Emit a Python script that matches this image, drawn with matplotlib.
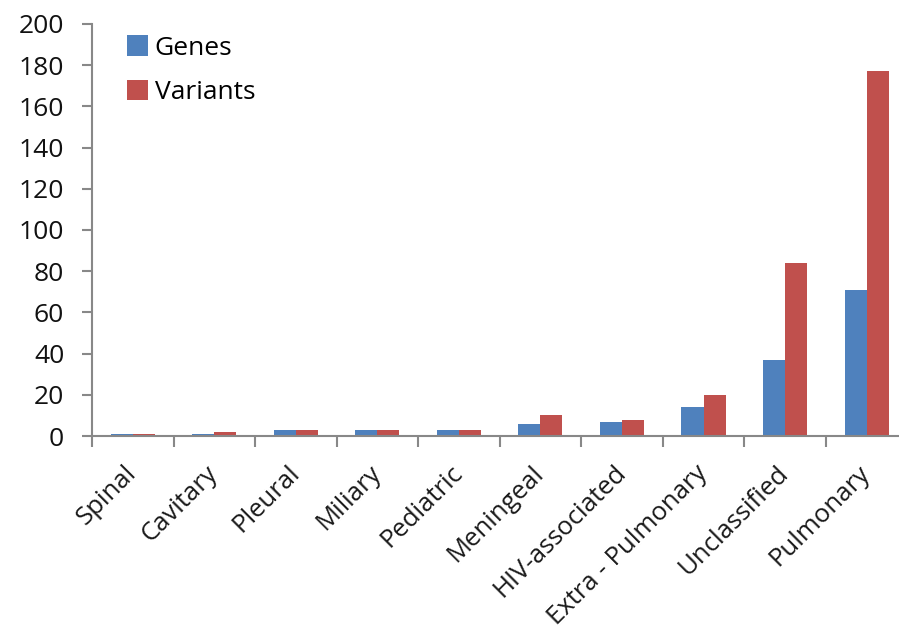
import matplotlib.pyplot as plt
import numpy as np

# TB forms: number of genes and variants reported
forms    = ['Spinal', 'Cavitary', 'Pleural', 'Miliary', 'Pediatric',
            'Meningeal', 'HIV-associated', 'Extra - Pulmonary',
            'Unclassified', 'Pulmonary']
genes    = [1, 1, 3, 3, 3, 6, 7, 14, 37, 71]
variants = [1, 2, 3, 3, 3, 10, 8, 20, 84, 177]
yticks   = list(range(0, 201, 20))

plt.rcParams['font.family'] = ['Open Sans', 'DejaVu Sans']

fig = plt.figure(figsize=(8.99, 6.34), dpi=100)
ax = fig.add_axes([0.1023, 0.3123, 0.907, 0.650])

x = np.arange(len(forms))
w = 0.27
ax.bar(x - w / 2, genes, w, color='#4F81BD', label='Genes')
ax.bar(x + w / 2, variants, w, color='#C0504D', label='Variants')

ax.set_xlim(-0.5, len(forms) - 0.5)
ax.set_ylim(0, 200)

# category labels at centres, tick marks between categories
ax.set_xticks(x)
ax.set_xticklabels(forms, rotation=45, ha='right', va='center',
                   rotation_mode='anchor', fontsize=18.5, color='#1a1a1a')
ax.set_xticks(np.arange(-0.5, len(forms), 1), minor=True)
ax.tick_params(axis='x', which='major', length=0, pad=24)
ax.tick_params(axis='x', which='minor', length=8, width=1.5, color='#888888')

ax.set_yticks(yticks)
ax.tick_params(axis='y', length=7, width=1.5, color='#888888',
               labelsize=19, labelcolor='#111111', pad=13)

for s in ['top', 'right']:
    ax.spines[s].set_visible(False)
for s in ['left', 'bottom']:
    ax.spines[s].set_color('#888888')
    ax.spines[s].set_linewidth(1.5)

ax.legend(loc='upper left', bbox_to_anchor=(0.043, 0.972), frameon=False,
          fontsize=19, handlelength=0.8, handleheight=0.8,
          handletextpad=0.25, labelspacing=0.72, borderpad=0.0,
          borderaxespad=0.0)

fig.savefig('out.png', dpi=100)
